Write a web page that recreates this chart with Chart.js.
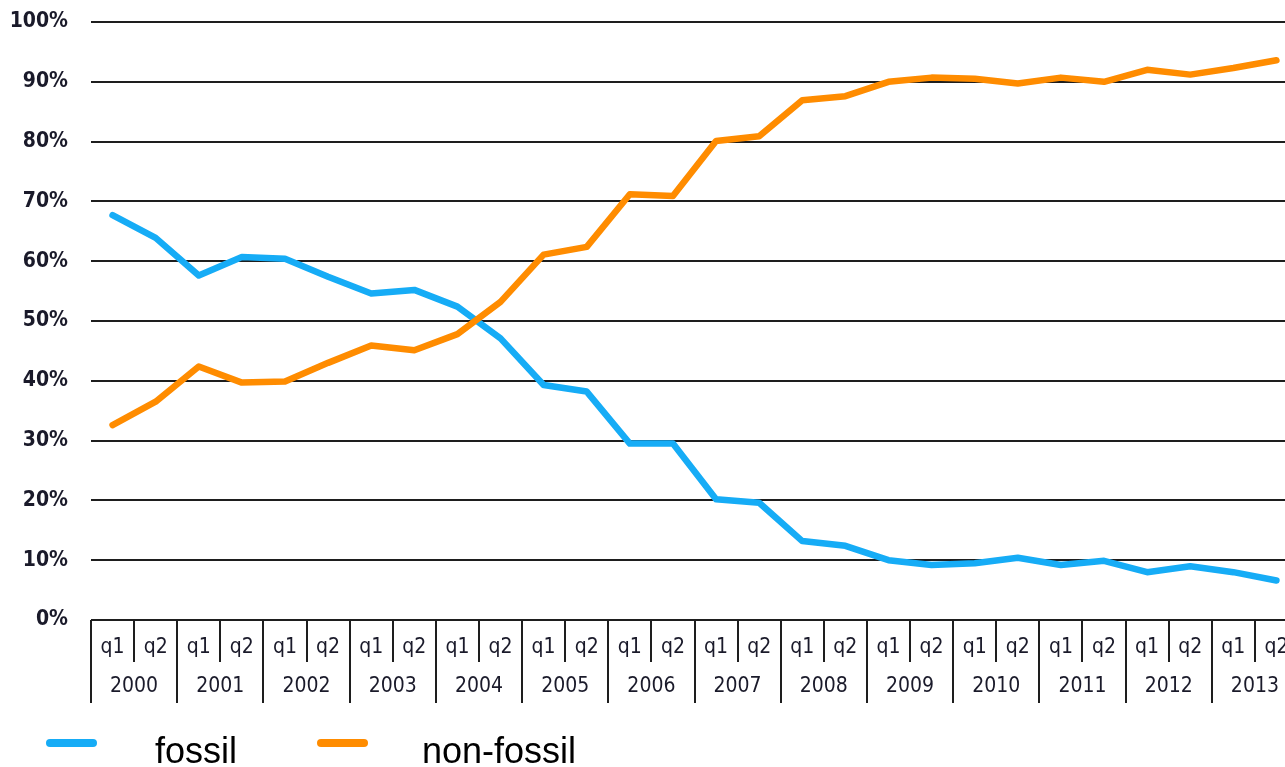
<!DOCTYPE html>
<html>
<head>
<meta charset="utf-8">
<script src="https://cdn.jsdelivr.net/npm/chart.js@4/dist/chart.umd.min.js"></script>
<style>
  html, body { margin: 0; padding: 0; background: #fff; overflow: hidden; }
  #wrap { position: relative; width: 1285px; height: 767px; overflow: hidden; }
  canvas { display: block; }
</style>
</head>
<body>
<div id="wrap"><canvas id="c" width="1298" height="767" style="width:1298px;height:767px"></canvas></div>
<script>
// ---- data ----
const quarters = ['q1','q2','q1','q2','q1','q2','q1','q2','q1','q2','q1','q2','q1','q2',
                  'q1','q2','q1','q2','q1','q2','q1','q2','q1','q2','q1','q2','q1','q2'];
const years = ['2000','2001','2002','2003','2004','2005','2006','2007','2008','2009','2010','2011','2012','2013'];
const fossil = [67.7, 63.9, 57.6, 60.7, 60.4, 57.4, 54.6, 55.2, 52.4, 47.1, 39.3, 38.2, 29.5, 29.5,
                20.2, 19.6, 13.2, 12.4, 10.0, 9.2, 9.5, 10.4, 9.2, 9.9, 8.0, 9.0, 8.0, 6.6];
const nonFossil = [32.6, 36.5, 42.4, 39.7, 39.9, 43.0, 45.9, 45.1, 47.8, 53.2, 61.1, 62.4, 71.2, 70.9,
                   80.1, 80.9, 86.9, 87.6, 90.0, 90.7, 90.5, 89.7, 90.7, 90.0, 92.0, 91.2, 92.3, 93.6];
const seriesNames = ['fossil', 'non-fossil'];
const yTicks = [0,10,20,30,40,50,60,70,80,90,100];

const BLUE = '#16acf6';
const ORANGE = '#ff8c00';
const NARROW = '"DejaVu Sans Condensed", "Liberation Sans Narrow", sans-serif';

// separators of the two-level category axis
const boxLines = {
  id: 'boxLines',
  afterDraw(chart) {
    const x = chart.scales.x;
    const top = chart.chartArea.bottom;
    const qBottom = chart.scales.x.bottom;
    const yBottom = chart.scales.x2.bottom;
    const ctx = chart.ctx;
    ctx.save();
    ctx.strokeStyle = '#1e1e1e';
    ctx.lineWidth = 2;
    for (let i = 0; i <= quarters.length; i++) {
      const px = Math.round(x.getPixelForValue(i - 0.5));
      ctx.beginPath();
      ctx.moveTo(px, top);
      ctx.lineTo(px, i % 2 === 0 ? yBottom : qBottom);
      ctx.stroke();
    }
    ctx.restore();
  }
};

// legend drawn below the axis
const bottomLegend = {
  id: 'bottomLegend',
  afterDraw(chart) {
    const ctx = chart.ctx;
    const spots = [{x1: 50, x2: 93, tx: 155}, {x1: 321, x2: 364, tx: 422}];
    ctx.save();
    chart.data.datasets.forEach((ds, i) => {
      const s = spots[i];
      ctx.strokeStyle = ds.borderColor;
      ctx.lineWidth = 8;
      ctx.lineCap = 'round';
      ctx.beginPath();
      ctx.moveTo(s.x1, 743);
      ctx.lineTo(s.x2, 743);
      ctx.stroke();
      ctx.fillStyle = '#000';
      ctx.font = '36px "Liberation Sans", Arial, sans-serif';
      ctx.textBaseline = 'alphabetic';
      ctx.textAlign = 'left';
      ctx.fillText(ds.label, s.tx, 763);
    });
    ctx.restore();
  }
};

new Chart(document.getElementById('c'), {
  type: 'line',
  data: {
    labels: quarters,
    datasets: [
      { label: seriesNames[0], data: fossil, borderColor: BLUE, backgroundColor: BLUE,
        borderWidth: 6.5, pointRadius: 0, tension: 0, borderJoinStyle: 'round', borderCapStyle: 'round',
        order: 1, xAxisID: 'x' },
      { label: seriesNames[1], data: nonFossil, borderColor: ORANGE, backgroundColor: ORANGE,
        borderWidth: 6.5, pointRadius: 0, tension: 0, borderJoinStyle: 'round', borderCapStyle: 'round',
        order: 0, xAxisID: 'x' }
    ]
  },
  options: {
    responsive: false,
    devicePixelRatio: 1,
    animation: false,
    layout: { padding: { top: 22, bottom: 64, left: 0, right: 0 } },
    plugins: { legend: { display: false }, tooltip: { enabled: false } },
    scales: {
      x: {
        type: 'category',
        position: 'bottom',
        weight: 0,
        offset: true,
        grid: { display: false, drawTicks: false },
        border: { display: false },
        ticks: { color: '#1a1a2a', font: { family: NARROW, size: 21 }, padding: 15, maxRotation: 0, autoSkip: false },
        afterFit(s) { s.height = 42; s.paddingLeft = 0; s.paddingRight = 0; }
      },
      x2: {
        type: 'category',
        position: 'bottom',
        weight: 1,
        labels: years,
        offset: true,
        grid: { display: false, drawTicks: false },
        border: { display: false },
        ticks: { color: '#1a1a2a', font: { family: NARROW, size: 21 }, padding: 12, maxRotation: 0, autoSkip: false },
        afterFit(s) { s.height = 41; s.paddingLeft = 0; s.paddingRight = 0; }
      },
      y: {
        min: 0, max: 100,
        afterBuildTicks(s) { s.ticks = yTicks.map(v => ({ value: v })); },
        grid: { color: '#1e1e1e', lineWidth: 2, drawTicks: false },
        border: { display: false },
        ticks: { color: '#1a1a2a', font: { family: NARROW, size: 21, weight: 'bold' }, padding: 23,
                 callback: v => v + '%' },
        afterFit(s) { s.width = 91; s.paddingTop = 0; s.paddingBottom = 0; }
      }
    }
  },
  plugins: [boxLines, bottomLegend]
});
</script>
</body>
</html>
